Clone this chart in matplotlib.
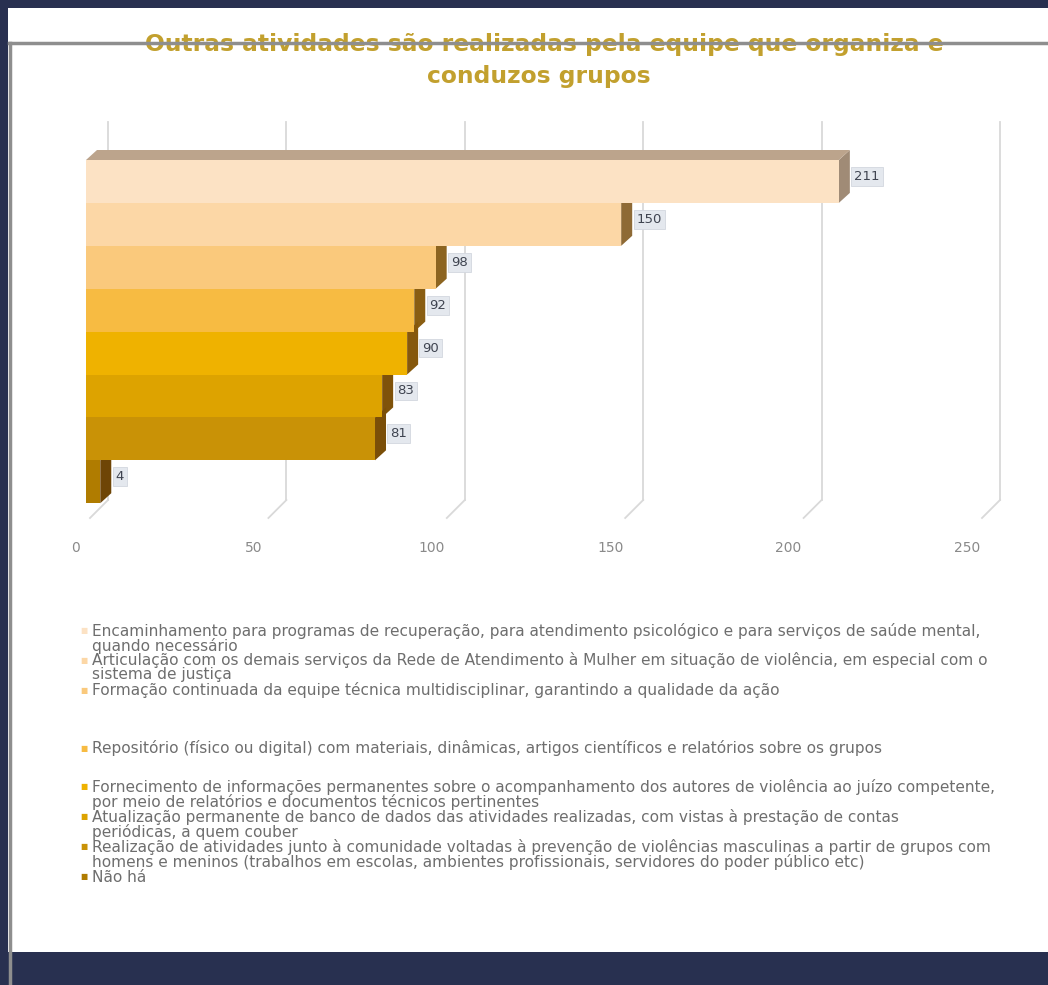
import matplotlib
matplotlib.use('Agg')
import matplotlib.pyplot as plt
from matplotlib.patches import Rectangle, Polygon
from matplotlib.lines import Line2D
import matplotlib.transforms as mtransforms

# ---------------- data ----------------
title_lines = ["Outras atividades são realizadas pela equipe que organiza e",
               "conduzos grupos"]
categories = [
    "Encaminhamento para programas de recuperação, para atendimento psicológico e para serviços de saúde mental,\nquando necessário",
    "Articulação com os demais serviços da Rede de Atendimento à Mulher em situação de violência, em especial com o\nsistema de justiça",
    "Formação continuada da equipe técnica multidisciplinar, garantindo a qualidade da ação",
    "Repositório (físico ou digital) com materiais, dinâmicas, artigos científicos e relatórios sobre os grupos",
    "Fornecimento de informações permanentes sobre o acompanhamento dos autores de violência ao juízo competente,\npor meio de relatórios e documentos técnicos pertinentes",
    "Atualização permanente de banco de dados das atividades realizadas, com vistas à prestação de contas\nperiódicas, a quem couber",
    "Realização de atividades junto à comunidade voltadas à prevenção de violências masculinas a partir de grupos com\nhomens e meninos (trabalhos em escolas, ambientes profissionais, servidores do poder público etc)",
    "Não há",
]
values = [211, 150, 98, 92, 90, 83, 81, 4]
tick_values = [0, 50, 100, 150, 200, 250]

# ---------------- style ----------------
bar_colors = ['#FCE2C4', '#FCD7A6', '#FAC97C', '#F7BB42', '#EFB200', '#DDA300', '#C99206', '#B07C00']
side_colors = ['#A08B76', '#8E6A35', '#8C6420', '#8A5E12', '#86580C', '#7F520A', '#7A4E08', '#6E4506']
navy = '#283050'
W, H = 1048, 985

fig = plt.figure(figsize=(W / 100, H / 100), dpi=100, facecolor=navy)

def fx(px):
    return px / W

def fy(py):
    return 1 - py / H

# white panel
fig.add_artist(Rectangle((fx(8), fy(952)), fx(1048) - fx(8), fy(8) - fy(952),
                         transform=fig.transFigure, facecolor='white',
                         edgecolor='none', zorder=0))

# title
title_color = '#C2A02E'
fig.text(fx(544), fy(44), title_lines[0], ha='center', va='center', fontsize=16.8,
         fontweight='bold', color=title_color, zorder=3)
fig.text(fx(539), fy(76), title_lines[1], ha='center', va='center', fontsize=16.8,
         fontweight='bold', color=title_color, zorder=3)

# gray frame lines (drawn over title like the reference)
fig.add_artist(Line2D([fx(9), fx(1048)], [fy(43), fy(43)], transform=fig.transFigure,
                      color='#8E8E8E', lw=2.5, zorder=5))
fig.add_artist(Line2D([fx(10), fx(10)], [fy(43), fy(985)], transform=fig.transFigure,
                      color='#8E8E8E', lw=2.5, zorder=5))

# ---------------- chart axes ----------------
x0_px, x1_px = 86, 978
ytop_px, ybot_px = 118, 525
bar_top_px, bar_h_px = 160, 42.9
ax = fig.add_axes([fx(x0_px), fy(ybot_px), fx(x1_px) - fx(x0_px), fy(ytop_px) - fy(ybot_px)])
ax.set_xlim(0, 250)
ax.set_ylim((ybot_px - bar_top_px) / bar_h_px, (ytop_px - bar_top_px) / bar_h_px)
ax.patch.set_alpha(0)
for s in ax.spines.values():
    s.set_visible(False)
ax.set_xticks([])
ax.set_yticks([])

ux = 250 / (x1_px - x0_px)   # data units per pixel (x)
uy = 1 / bar_h_px            # data units per pixel (y)
dx, dy = 11 * ux, 10 * uy

# grid (3D back wall + floor diagonals)
g_off = 22 * ux
g_top = (122 - bar_top_px) * uy
g_bot = (500 - bar_top_px) * uy
g_end = (518 - bar_top_px) * uy
for t in tick_values:
    ax.plot([t + g_off, t + g_off], [g_top, g_bot], color='#D9D9D9', lw=1.3, zorder=1, clip_on=False)
    ax.plot([t + g_off, t + 4 * ux], [g_bot, g_end], color='#D9D9D9', lw=1.3, zorder=1, clip_on=False)

# bars
ypos = list(range(len(values)))
ax.barh(ypos, values, height=1.0, align='edge', color=bar_colors, edgecolor='none', zorder=5)

# side faces and top face
for i, v in enumerate(values):
    side = Polygon([(v, i + 1), (v, i), (v + dx, i - dy), (v + dx, i + 1 - dy)],
                   closed=True, facecolor=side_colors[i], edgecolor='none', zorder=4)
    ax.add_patch(side)
top = Polygon([(0, 0), (values[0], 0), (values[0] + dx, -dy), (dx, -dy)], closed=True,
              facecolor='#BCA48C', edgecolor='none', zorder=4)
ax.add_patch(top)

# value labels
for i, v in enumerate(values):
    ax.text(v + dx + 1.2, i + 0.5 - dy / 2, str(v), ha='left', va='center', fontsize=9.5,
            color='#3F4450', zorder=6,
            bbox=dict(boxstyle='square,pad=0.22', facecolor='#E4E8EE', edgecolor='#D2D7DF', lw=0.6))

# x tick labels (shifted left like the 3D projection)
offset = mtransforms.ScaledTranslation(-11 / 100, 0, fig.dpi_scale_trans)
tick_trans = mtransforms.blended_transform_factory(ax.transData, fig.transFigure) + offset
for t in tick_values:
    ax.text(t, fy(548), str(t), transform=tick_trans, ha='center', va='center',
            fontsize=10, color='#8A8A8A', clip_on=False)

# ---------------- legend ----------------
legend_y = [631, 660, 690, 748, 787, 817, 847, 877]
line_step = 15
for cat, col, y0 in zip(categories, bar_colors, legend_y):
    fig.text(fx(84), fy(y0), '■', ha='center', va='center', fontsize=5.5, color=col)
    for j, line in enumerate(cat.split('\n')):
        fig.text(fx(92), fy(y0 + j * line_step), line, ha='left', va='center',
                 fontsize=11.1, color='#6E6E6E')

fig.savefig('out.png', dpi=100, facecolor=fig.get_facecolor())
